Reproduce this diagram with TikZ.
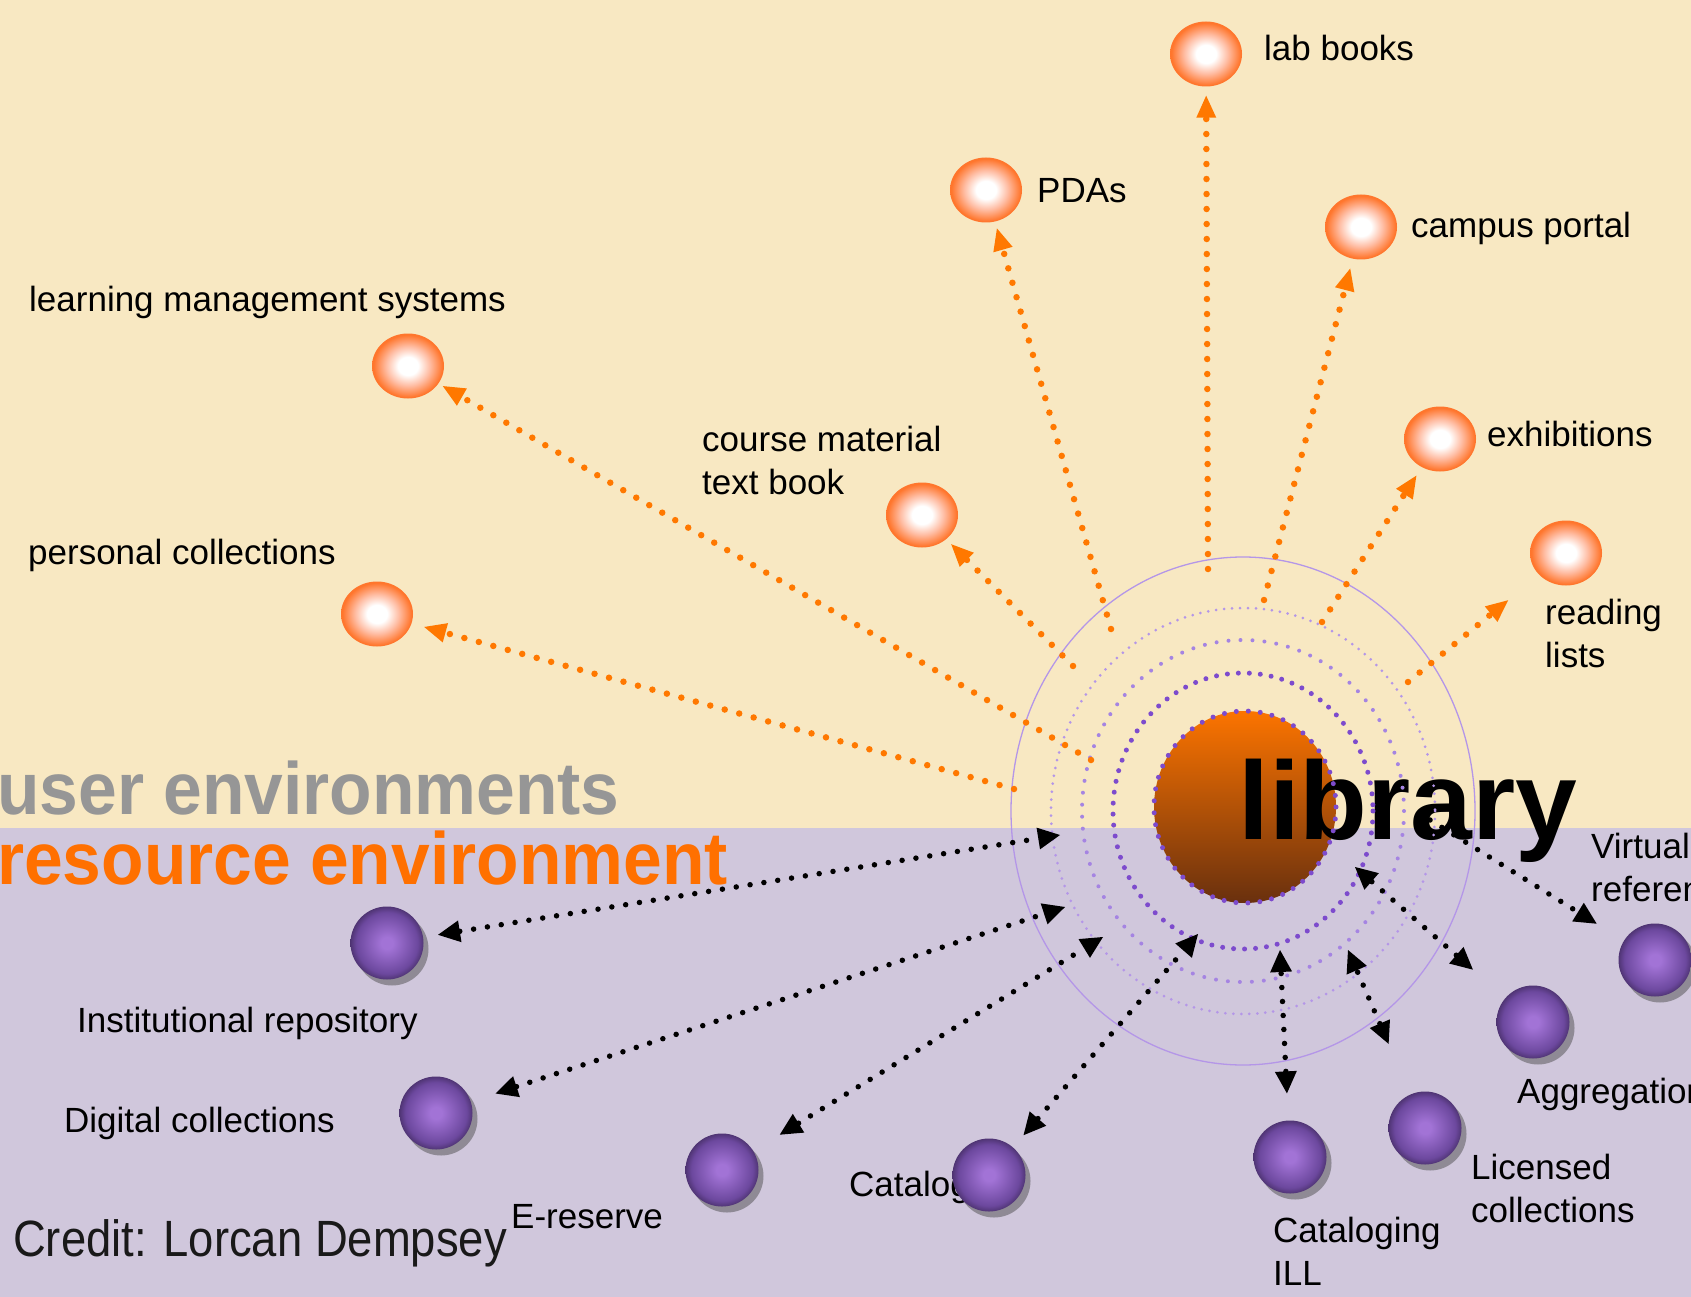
\documentclass[tikz,border=0pt]{standalone}
\usepackage{fontspec}
\setmainfont{Liberation Sans}
\newfontfamily\envfont[FakeStretch=0.94]{Liberation Sans Bold}
\newfontfamily\creditfont[FakeStretch=0.89]{Liberation Sans}
\usepackage{tikz}
\usetikzlibrary{arrows.meta,shapes.geometric,shadows}

\definecolor{user_bg}{RGB}{248,232,194}
\definecolor{res_bg}{RGB}{208,199,220}
\definecolor{env_gray}{RGB}{150,150,150}
\definecolor{env_orange}{RGB}{255,112,0}
\definecolor{link_orange}{RGB}{255,120,0}
\definecolor{orb_orange}{RGB}{255,118,45}
\definecolor{orb_pink}{RGB}{255,190,165}
\definecolor{purp_light}{RGB}{162,115,214}
\definecolor{purp_mid}{RGB}{108,72,158}
\definecolor{purp_dark}{RGB}{38,24,55}
\definecolor{lib_top}{RGB}{252,116,0}
\definecolor{lib_bottom}{RGB}{105,48,14}
\definecolor{ring_dark}{RGB}{125,75,205}
\definecolor{ring_mid}{RGB}{165,132,226}
\definecolor{ring_light}{RGB}{180,150,232}

\pgfdeclareradialshading{orb_glow}{\pgfpointorigin}{color(0bp)=(white); color(7bp)=(white); color(15bp)=(orb_pink); color(24bp)=(orb_orange); color(50bp)=(orb_orange)}
\pgfdeclareradialshading{orb_dark}{\pgfpointorigin}{color(0bp)=(purp_light); color(4bp)=(purp_light); color(21bp)=(purp_mid); color(31bp)=(purp_dark); color(35bp)=(black!85!purp_dark); color(50bp)=(black!85!purp_dark)}

\tikzset{
  orb/.style={ellipse, minimum width=72pt, minimum height=65pt, inner sep=0pt, shading=orb_glow},
  sphere/.style={circle, minimum size=73pt, inner sep=0pt, shading=orb_dark,
    drop shadow={shadow xshift=5pt, shadow yshift=-6pt, fill=black!75, opacity=0.45}},
  lbl/.style={anchor=base west, inner sep=0pt, align=left, font=\fontsize{35}{43}\selectfont},
  orange_link/.style={link_orange, line width=6.5pt, dash pattern=on 0pt off 15pt, line cap=round,
    -{Triangle[length=22pt,width=20pt,line width=0pt]}},
  black_dots/.style={black, line width=5.5pt, dash pattern=on 0pt off 14pt, line cap=round},
  black_link/.style={black_dots,
    {Triangle[length=22pt,width=22pt,line width=0pt]}-{Triangle[length=22pt,width=22pt,line width=0pt]}},
  black_one/.style={black_dots, -{Triangle[length=22pt,width=22pt,line width=0pt]}},
}

\begin{document}
\begin{tikzpicture}[x=1pt,y=-1pt]

    \useasboundingbox (0,0) rectangle (1691,1297);
    \clip (0,0) rectangle (1691,1297);

    % Fond : environnement utilisateur en haut, ressources en bas
    \fill[user_bg] (0,0) rectangle (1691,828);
    \fill[res_bg] (0,828) rectangle (1691,1297);

    \node[anchor=base west, inner sep=0pt, text=env_gray, font=\envfont\fontsize{74}{80}\selectfont] (user_env) at (-3,814) {user environments};
    \node[anchor=base west, inner sep=0pt, text=env_orange, font=\envfont\fontsize{74}{80}\selectfont] (res_env) at (-3,884) {resource environment};
    \node[anchor=base west, inner sep=0pt, text=black!90, font=\creditfont\fontsize{51}{60}\selectfont] (credit) at (13,1256) {Credit: Lorcan Dempsey};

    % Les textes des boules (base = derniere ligne)
    \node[lbl] (t_lab) at (1264,61) {lab books};
    \node[lbl] (t_pda) at (1037,203) {PDAs};
    \node[lbl] (t_portal) at (1411,238) {campus portal};
    \node[lbl] (t_lms) at (29,311) {learning management systems};
    \node[lbl] (t_course) at (702,494) {course material\\text book};
    \node[lbl] (t_exhib) at (1487,446) {exhibitions};
    \node[lbl] (t_read) at (1545,667) {reading\\lists};
    \node[lbl] (t_pers) at (28,564) {personal collections};
    \node[lbl] (t_inst) at (77,1032) {Institutional repository};
    \node[lbl] (t_digi) at (64,1132) {Digital collections};
    \node[lbl] (t_eres) at (511,1228) {E-reserve};
    \node[lbl] (t_cat) at (849,1196) {Catalog};
    \node[lbl] (t_ill) at (1273,1285) {Cataloging\\ILL};
    \node[lbl] (t_lic) at (1471,1222) {Licensed\\collections};
    \node[lbl] (t_agg) at (1517,1103) {Aggregations};
    \node[lbl] (t_virt) at (1591,901) {Virtual\\reference};

    % Boules orange (usagers)
    \node[orb] (lab) at (1206,54) {};
    \node[orb] (pda) at (986,190) {};
    \node[orb] (portal) at (1361,227) {};
    \node[orb] (lms) at (408,366) {};
    \node[orb] (course) at (922,515) {};
    \node[orb] (exhib) at (1440,439) {};
    \node[orb] (read) at (1566,553) {};
    \node[orb] (pers) at (377,614) {};

    % Boules violettes (ressources)
    \node[sphere] (inst) at (387,943) {};
    \node[sphere] (digi) at (436,1113) {};
    \node[sphere] (eres) at (722,1170) {};
    \node[sphere] (cat) at (989,1175) {};
    \node[sphere] (ill) at (1290,1157) {};
    \node[sphere] (lic) at (1425,1128) {};
    \node[sphere] (agg) at (1533,1022) {};
    \node[sphere] (virt) at (1655,960) {};

    % La bibliotheque au centre
    \coordinate (hub) at (1243,811);
    \node[ellipse, minimum width=182pt, minimum height=192pt, inner sep=0pt, top color=lib_top, bottom color=lib_bottom] (lib) at (1245,807) {};
    \coordinate (v_start) at (1430,820);
    \draw[black_one, shorten >=32pt] (v_start) -- (virt);
    \node[anchor=base west, inner sep=0pt, font=\bfseries\fontsize{111}{120}\selectfont] (lib_txt) at (1238,839) {library};

    % Les cercles pointilles autour
    \draw[ring_light, line width=1.3pt] (hub) ellipse [x radius=232, y radius=254];
    \draw[ring_light, line width=3pt, dash pattern=on 0pt off 8pt, line cap=round] (hub) ellipse [x radius=192, y radius=203];
    \draw[ring_mid, line width=4pt, dash pattern=on 0pt off 12pt, line cap=round] (hub) ellipse [x radius=161, y radius=171];
    \draw[ring_dark, line width=5pt, dash pattern=on 0pt off 11pt, line cap=round] (hub) ellipse [x radius=130, y radius=138];
    \draw[ring_dark, line width=5pt, dash pattern=on 0pt off 12pt, line cap=round] (lib.center) ellipse [x radius=91, y radius=96];

    % Fleches orange vers les usagers
    \coordinate (o_lab) at (1208,569);
    \coordinate (o_pda) at (1111,629);
    \coordinate (o_portal) at (1264,600);
    \coordinate (o_lms) at (1091,760);
    \coordinate (o_course) at (1073,666);
    \coordinate (o_exhib) at (1322,622);
    \coordinate (o_read) at (1408,682);
    \coordinate (o_pers) at (1014,789);
    \foreach \b/\g in {lab/9, pda/7, portal/10, lms/5, course/7, exhib/10, read/40, pers/13}
        \draw[orange_link, shorten >=\g pt] (o_\b) -- (\b);

    % Fleches noires vers les ressources
    \coordinate (r_inst) at (1060,835);
    \coordinate (r_digi) at (1065,907);
    \coordinate (r_eres) at (1103,937);
    \coordinate (r_cat) at (1198,934);
    \coordinate (r_ill) at (1280,950);
    \coordinate (r_lic) at (1348,950);
    \coordinate (r_agg) at (1355,867);
    \foreach \b/\g in {inst/15, digi/26, eres/31, cat/16, ill/27, lic/55, agg/43}
        \draw[black_link, shorten <=\g pt] (\b) -- (r_\b);

\end{tikzpicture}
\end{document}
